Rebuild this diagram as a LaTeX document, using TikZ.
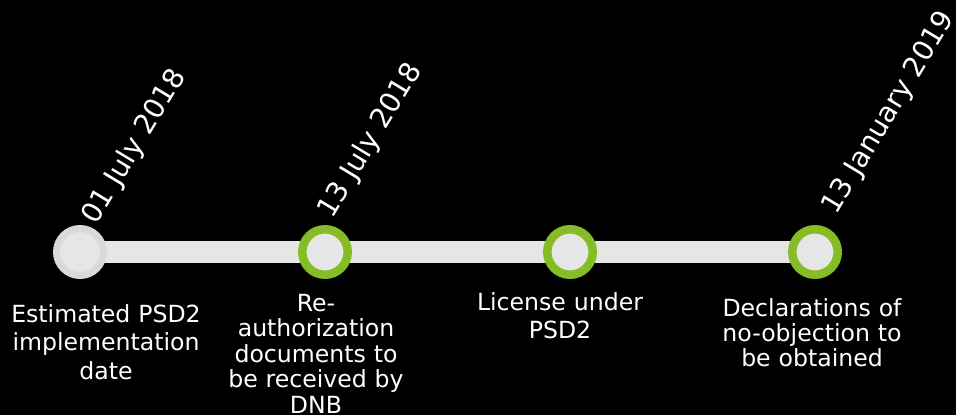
\documentclass[tikz,border=0pt]{standalone}
\usepackage{fontspec}
\setmainfont{DejaVu Sans}
\usetikzlibrary{backgrounds}
\definecolor{bargrey}{HTML}{E6E6E6}
\definecolor{ringgrey}{HTML}{D9D9D9}
\definecolor{mgreen}{HTML}{86BC25}
\begin{document}
\begin{tikzpicture}[x=1pt,y=-1pt,
  milestone/.style={circle, inner sep=0pt, minimum size=45.5pt, fill=bargrey, draw=mgreen, line width=8.5pt},
  startstone/.style={circle, inner sep=0pt, minimum size=47pt, fill=bargrey, draw=ringgrey, line width=7pt},
  datelabel/.style={rotate=59, anchor=base west, inner sep=0pt, text=white, font=\fontsize{28}{34}\selectfont},
  desc/.style={anchor=base, align=center, inner sep=0pt, text=white, text width=220pt},
  timebar/.style={bargrey, line width=22pt}
]
\useasboundingbox (0,0) rectangle (956,415);

% milestones
\node[startstone] (c1) at (80,252) {};
\node[milestone]  (c2) at (325,252) {};
\node[milestone]  (c3) at (570,252) {};
\node[milestone]  (c4) at (815,252) {};

% canvas and timeline bar, behind the milestones
\begin{scope}[on background layer]
  \fill[black] (0,0) rectangle (956,415);
  \draw[timebar] (c1.center) -- (c4.center);
\end{scope}

% dates
\node[datelabel] (d1) at (96,226) {01 July 2018};
\node[datelabel] (d2) at (332,220) {13 July 2018};
\node[datelabel] (d4) at (836,216) {13 January 2019};

% descriptions
\node[desc, font=\fontsize{23.6}{28.5}\selectfont] (t1) at (106,322) {Estimated PSD2\\implementation\\date};
\node[desc, font=\fontsize{23.6}{25.5}\selectfont] (t2) at (316,311) {Re-\\authorization\\documents to\\be received by\\DNB};
\node[desc, font=\fontsize{23.6}{28}\selectfont] (t3) at (560,310) {License under\\PSD2};
\node[desc, font=\fontsize{23.6}{25}\selectfont] (t4) at (812,316) {Declarations of\\no-objection to\\be obtained};
\end{tikzpicture}
\end{document}
